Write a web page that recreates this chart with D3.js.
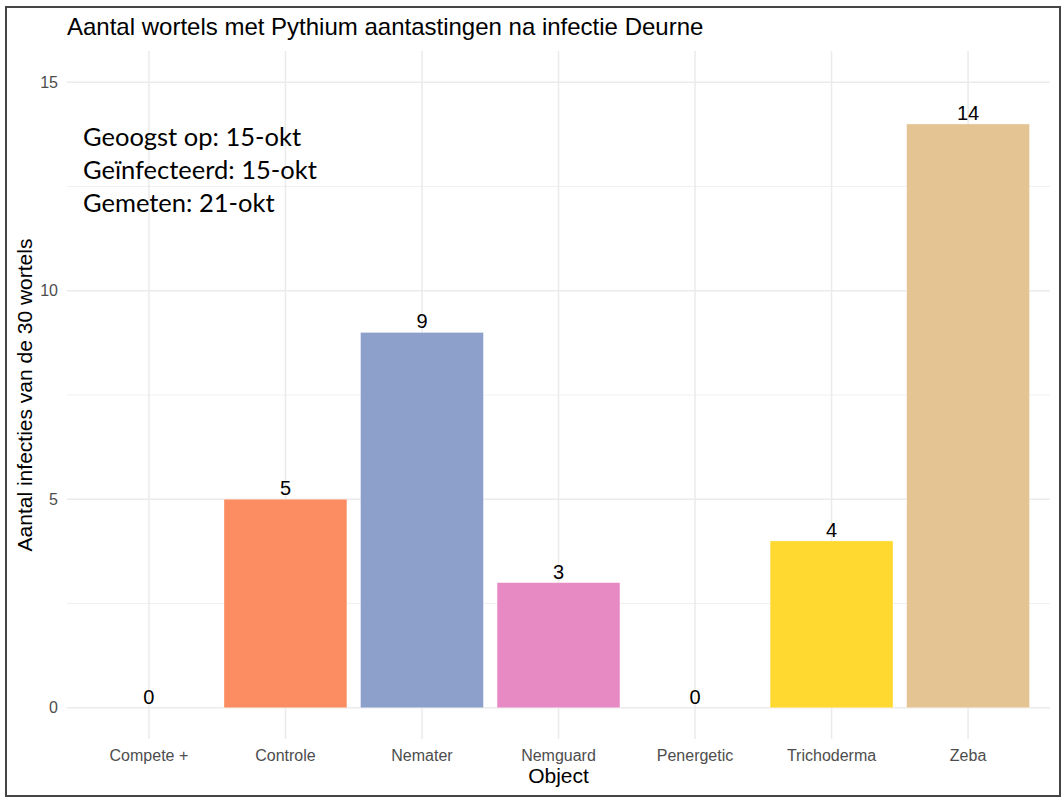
<!DOCTYPE html>
<html>
<head>
<meta charset="utf-8">
<script src="https://cdn.jsdelivr.net/npm/d3@7"></script>
<style>
  html, body { margin: 0; padding: 0; background: #fff; }
  svg { display: block; }
</style>
</head>
<body>
<svg id="chart" width="1064" height="798"></svg>
<script>
const categories = ["Compete +", "Controle", "Nemater", "Nemguard", "Penergetic", "Trichoderma", "Zeba"];
const values = [0, 5, 9, 3, 0, 4, 14];
const colors = ["#66C2A5", "#FC8D62", "#8DA0CB", "#E78AC3", "#A6D854", "#FFD92F", "#E5C494"];
const yTicks = [0, 5, 10, 15];
const yMinor = [2.5, 7.5, 12.5];
const titleText = "Aantal wortels met Pythium aantastingen na infectie Deurne";
const xTitle = "Object";
const yTitle = "Aantal infecties van de 30 wortels";
const noteLines = ["Geoogst op: 15-okt", "Geïnfecteerd: 15-okt", "Gemeten: 21-okt"];

const svg = d3.select("#chart");

// outer frame
svg.append("rect").attr("x", 6).attr("y", 7).attr("width", 1054).attr("height", 789)
  .attr("fill", "#fff").attr("stroke", "#454545").attr("stroke-width", 2);

const panel = { left: 67, right: 1050, top: 51, bottom: 739 };

// discrete x scale with ggplot-like expansion (0.6 of a step each side)
const step = (panel.right - panel.left) / (categories.length + 0.2);
const x = d3.scalePoint().domain(categories)
  .range([panel.left + 0.6 * step, panel.right - 0.6 * step]);
const bw = step * 0.9;

const y = d3.scaleLinear().domain([-0.75, 15.75]).range([panel.bottom, panel.top]);

const grid = svg.append("g");
grid.selectAll("line.minor").data(yMinor).enter().append("line")
  .attr("x1", panel.left).attr("x2", panel.right)
  .attr("y1", d => y(d)).attr("y2", d => y(d))
  .attr("stroke", "#f0f0f0").attr("stroke-width", 1);
grid.selectAll("line.major").data(yTicks).enter().append("line")
  .attr("x1", panel.left).attr("x2", panel.right)
  .attr("y1", d => y(d)).attr("y2", d => y(d))
  .attr("stroke", "#ebebeb").attr("stroke-width", 1.5);
grid.selectAll("line.vx").data(categories).enter().append("line")
  .attr("x1", d => x(d)).attr("x2", d => x(d))
  .attr("y1", panel.top).attr("y2", panel.bottom)
  .attr("stroke", "#ebebeb").attr("stroke-width", 1.5);

// bars
svg.append("g").selectAll("rect").data(categories).enter().append("rect")
  .attr("x", d => x(d) - bw / 2)
  .attr("width", bw)
  .attr("y", (d, i) => y(values[i]))
  .attr("height", (d, i) => y(0) - y(values[i]))
  .attr("fill", (d, i) => colors[i])
  .attr("stroke", "#fff").attr("stroke-opacity", 0.4).attr("stroke-width", 0.8);

// value labels
svg.append("g").selectAll("text").data(categories).enter().append("text")
  .attr("x", d => x(d))
  .attr("y", (d, i) => y(values[i]) - 4)
  .attr("text-anchor", "middle")
  .attr("font-family", "Liberation Sans, Arial, sans-serif")
  .attr("font-size", 20).attr("fill", "#000")
  .text((d, i) => values[i]);

// y tick labels
svg.append("g").selectAll("text").data(yTicks).enter().append("text")
  .attr("x", 58).attr("y", d => y(d)).attr("dy", "0.35em")
  .attr("text-anchor", "end")
  .attr("font-family", "Liberation Sans, Arial, sans-serif")
  .attr("font-size", 16).attr("fill", "#4d4d4d")
  .text(d => d);

// x tick labels
svg.append("g").selectAll("text").data(categories).enter().append("text")
  .attr("x", d => x(d)).attr("y", 761)
  .attr("text-anchor", "middle")
  .attr("font-family", "Liberation Sans, Arial, sans-serif")
  .attr("font-size", 16).attr("fill", "#4d4d4d")
  .text(d => d);

// axis titles
svg.append("text").attr("x", (panel.left + panel.right) / 2).attr("y", 783)
  .attr("text-anchor", "middle")
  .attr("font-family", "Liberation Sans, Arial, sans-serif")
  .attr("font-size", 21).attr("fill", "#000").text(xTitle);

svg.append("text")
  .attr("transform", `translate(32, ${(panel.top + panel.bottom) / 2}) rotate(-90)`)
  .attr("text-anchor", "middle")
  .attr("font-family", "Liberation Sans, Arial, sans-serif")
  .attr("font-size", 21).attr("fill", "#000").text(yTitle);

// title
svg.append("text").attr("x", 67).attr("y", 35)
  .attr("font-family", "Liberation Sans, Arial, sans-serif")
  .attr("font-size", 24).attr("fill", "#000").text(titleText);

// note
svg.append("g").selectAll("text").data(noteLines).enter().append("text")
  .attr("x", 83).attr("y", (d, i) => 146 + i * 33)
  .attr("font-family", "Lato, 'Open Sans', sans-serif")
  .attr("font-size", 25.5).attr("fill", "#000")
  .text(d => d);
</script>
</body>
</html>
